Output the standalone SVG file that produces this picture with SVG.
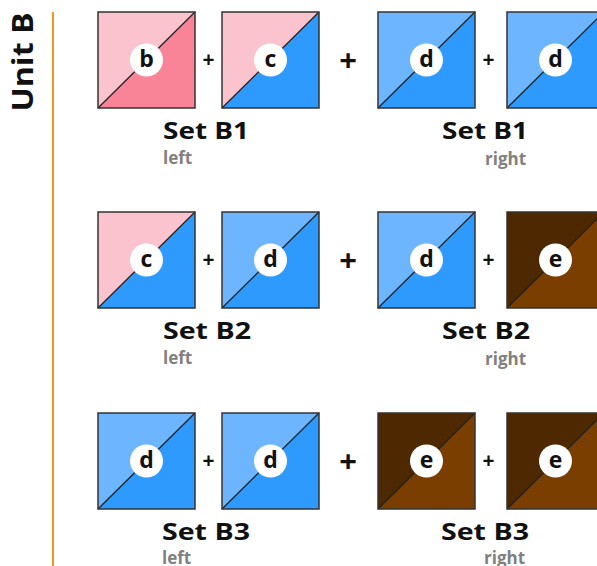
<svg xmlns="http://www.w3.org/2000/svg" width="597" height="566" viewBox="0 0 597 566">
<style>
.edge{fill:none;stroke:#333;stroke-width:1.5}
.diag{stroke:#222;stroke-width:1.3}
.dot{fill:#fff}
.lbl{font-family:"Open Sans","Liberation Sans",sans-serif;font-weight:bold;font-size:23px;fill:#111;text-anchor:middle}
.plus-s{font-family:"Open Sans","Liberation Sans",sans-serif;font-weight:bold;font-size:21px;fill:#111;text-anchor:middle}
.plus-b{font-family:"Open Sans","Liberation Sans",sans-serif;font-weight:bold;font-size:31px;fill:#111;text-anchor:middle}
.set{font-family:"Open Sans","Liberation Sans",sans-serif;font-weight:bold;font-size:24px;fill:#111}
.side{font-family:"Open Sans","Liberation Sans",sans-serif;font-weight:bold;font-size:17px;fill:#808080}
.unit{font-family:"Open Sans","Liberation Sans",sans-serif;font-weight:bold;font-size:28px;fill:#111;text-anchor:middle}
.pl{fill:#FBC3CD}.pd{fill:#F98497}.bl{fill:#6DB6FF}.bd{fill:#2E9AFE}.el{fill:#7A3E00}.ed{fill:#4E2800}
</style>
<defs>
<polygon id="tri" points="0,96 97,0 97,96"/>
<g id="frame"><line class="diag" x1="0" y1="96" x2="97" y2="0"/><rect class="edge" x="0" y="0" width="97" height="96"/><circle class="dot" cx="48.5" cy="48" r="16.5"/></g>
</defs>

<text class="unit" transform="translate(33,62) rotate(-90)" textLength="99" lengthAdjust="spacingAndGlyphs">Unit B</text>
<line x1="53" y1="12" x2="53" y2="566" stroke="#F7941D" stroke-width="2"/>

<!-- Row 1 -->
<g id="r1t1" transform="translate(98,12)"><rect class="pl" width="97" height="96"/><use href="#tri" class="pd"/><use href="#frame"/><text class="lbl" x="48.5" y="54.5">b</text></g>
<g id="r1t2" transform="translate(222,12)"><rect class="pl" width="97" height="96"/><use href="#tri" class="bd"/><use href="#frame"/><text class="lbl" x="48.5" y="54.5">c</text></g>
<g id="r1t3" transform="translate(378,12)"><rect class="bl" width="97" height="96"/><use href="#tri" class="bd"/><use href="#frame"/><text class="lbl" x="48.5" y="54.5">d</text></g>
<g id="r1t4" transform="translate(507,12)"><rect class="bl" width="97" height="96"/><use href="#tri" class="bd"/><use href="#frame"/><text class="lbl" x="48.5" y="54.5">d</text></g>
<text class="plus-s" x="208.5" y="67">+</text>
<text class="plus-b" x="348" y="71">+</text>
<text class="plus-s" x="488.5" y="67">+</text>
<g id="r1labels"><text class="set" x="163" y="139" textLength="86" lengthAdjust="spacingAndGlyphs">Set B1</text><text class="side" x="163" y="164">left</text>
<text class="set" x="442" y="139" textLength="86" lengthAdjust="spacingAndGlyphs">Set B1</text><text class="side" x="485" y="165">right</text></g>

<!-- Row 2 -->
<g id="r2t1" transform="translate(98,212)"><rect class="pl" width="97" height="96"/><use href="#tri" class="bd"/><use href="#frame"/><text class="lbl" x="48.5" y="54.5">c</text></g>
<g id="r2t2" transform="translate(222,212)"><rect class="bl" width="97" height="96"/><use href="#tri" class="bd"/><use href="#frame"/><text class="lbl" x="48.5" y="54.5">d</text></g>
<g id="r2t3" transform="translate(378,212)"><rect class="bl" width="97" height="96"/><use href="#tri" class="bd"/><use href="#frame"/><text class="lbl" x="48.5" y="54.5">d</text></g>
<g id="r2t4" transform="translate(507,212)"><rect class="ed" width="97" height="96"/><use href="#tri" class="el"/><use href="#frame"/><text class="lbl" x="48.5" y="54.5">e</text></g>
<text class="plus-s" x="208.5" y="267">+</text>
<text class="plus-b" x="348" y="271">+</text>
<text class="plus-s" x="488.5" y="267">+</text>
<g id="r2labels"><text class="set" x="163" y="339" textLength="88" lengthAdjust="spacingAndGlyphs">Set B2</text><text class="side" x="163" y="364">left</text>
<text class="set" x="442" y="339" textLength="88" lengthAdjust="spacingAndGlyphs">Set B2</text><text class="side" x="485" y="365">right</text></g>

<!-- Row 3 -->
<g id="r3t1" transform="translate(98,413)"><rect class="bl" width="97" height="96"/><use href="#tri" class="bd"/><use href="#frame"/><text class="lbl" x="48.5" y="54.5">d</text></g>
<g id="r3t2" transform="translate(222,413)"><rect class="bl" width="97" height="96"/><use href="#tri" class="bd"/><use href="#frame"/><text class="lbl" x="48.5" y="54.5">d</text></g>
<g id="r3t3" transform="translate(378,413)"><rect class="ed" width="97" height="96"/><use href="#tri" class="el"/><use href="#frame"/><text class="lbl" x="48.5" y="54.5">e</text></g>
<g id="r3t4" transform="translate(507,413)"><rect class="ed" width="97" height="96"/><use href="#tri" class="el"/><use href="#frame"/><text class="lbl" x="48.5" y="54.5">e</text></g>
<text class="plus-s" x="208.5" y="468">+</text>
<text class="plus-b" x="348" y="472">+</text>
<text class="plus-s" x="488.5" y="468">+</text>
<g id="r3labels"><text class="set" x="162" y="540" textLength="88" lengthAdjust="spacingAndGlyphs">Set B3</text><text class="side" x="162" y="564">left</text>
<text class="set" x="441" y="540" textLength="88" lengthAdjust="spacingAndGlyphs">Set B3</text><text class="side" x="484" y="564">right</text></g>
</svg>
